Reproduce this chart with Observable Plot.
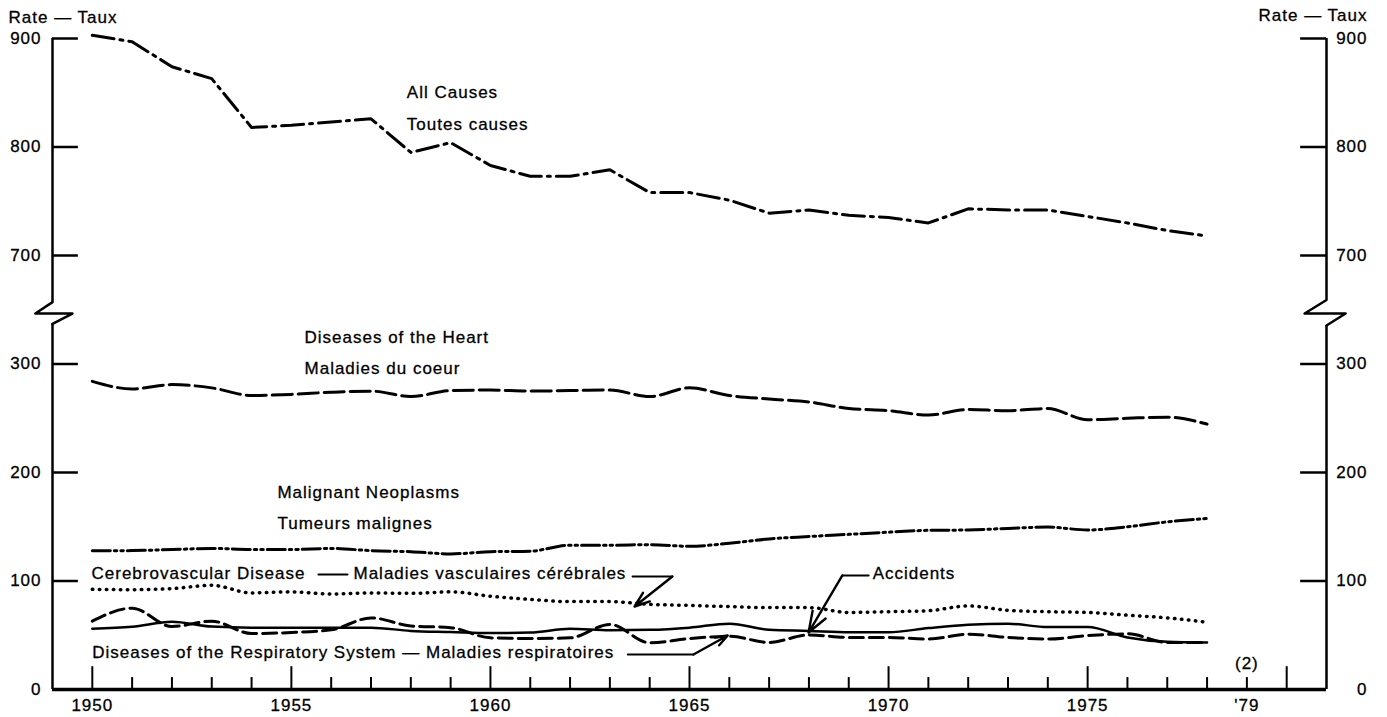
<!DOCTYPE html>
<html><head><meta charset="utf-8">
<script src="https://cdn.jsdelivr.net/npm/d3@7"></script>
<script src="https://cdn.jsdelivr.net/npm/@observablehq/plot@0.6"></script>
<style>
html,body{margin:0;padding:0;background:#fff;}
#chart svg{display:block;}
#chart svg text{letter-spacing:1px;}
</style></head><body><div id="chart"></div>
<script>
// ---- data (rates per 100,000) ----
const years = [1950,1951,1952,1953,1954,1955,1956,1957,1958,1959,1960,1961,1962,1963,1964,1965,1966,1967,1968,1969,1970,1971,1972,1973,1974,1975,1976,1977,1978];
const allCauses = [903,897,874,863,818,820,823,826,795,804,783,773,773,779,758,758,751,739,742,737,735,730,743,742,742,736,730,723,718];
const heartDisease = [284,277,281,278,271,272,274,275,270,275.5,276,275,275.5,276,270,278,271,267.7,265,259,257,253,258,257,259,248.6,250,251,244.6];
const malignantNeoplasms = [127.8,128,129,130,129,129,130,128,127,125,127,127.5,133,133,133.5,132,134.8,138.8,141,143,145,146.7,147,148.5,149.7,147,150,154.5,157.6];
const cerebrovascular = [92.3,92,93,96,89,90,88,89,88.6,90,86,83,81,81,78.5,77.5,76.4,75.5,75.5,71,71.7,72.6,77,73,71.7,71,68.5,66,62];
const accidents = [56,57.8,62.5,58,57,57,57,57,54,53,52,52.5,56,54.6,55,57,60.7,55,54,52.8,52.8,56.6,59.7,60.7,57.5,57.5,48,44,43.4];
const respiratory = [63,75,58,63,51.6,52.5,55,66,58.6,57,47.6,47,47.6,60,43,47,49,43.4,50.3,48,48,46.5,51,48,46.5,49.7,51.3,43.4,43.4];

const yTickValues = [0,100,200,300,700,800,900];
const xTickYears = [1950,1951,1952,1953,1954,1955,1956,1957,1958,1959,1960,1961,1962,1963,1964,1965,1966,1967,1968,1969,1970,1971,1972,1973,1974,1975,1976,1977,1978,1979,1980];
const xLabelYears = [1950,1955,1960,1965,1970,1975,1979];
const xLabelText = ["1950","1955","1960","1965","1970","1975","'79"];

// ---- broken axis: values above the break are shifted down by 300 ----
const BREAK_SHIFT = 300;
const bk = v => v > 500 ? v - BREAK_SHIFT : v;

const X0 = 1949, X1 = 1981;
const FONT = "Liberation Sans, Arial, Helvetica, sans-serif";

function series(vals, name) {
  return years.map((yr, i) => ({year: yr, value: bk(vals[i]), name}));
}

const labels = [
  {x: 1957.9, y: 850, t: "All Causes"},
  {x: 1957.9, y: 821, t: "Toutes causes"},
  {x: 1955.33, y: 324, t: "Diseases of the Heart"},
  {x: 1955.33, y: 296, t: "Maladies du coeur"},
  {x: 1954.65, y: 181.6, t: "Malignant Neoplasms"},
  {x: 1954.65, y: 153, t: "Tumeurs malignes"},
  {x: 1949.98, y: 106.9, t: "Cerebrovascular Disease"},
  {x: 1956.56, y: 106.9, t: "Maladies vasculaires cérébrales"},
  {x: 1950.0, y: 34.1, t: "Diseases of the Respiratory System — Maladies respiratoires"},
  {x: 1969.6, y: 106.9, t: "Accidents"}
].map(d => ({...d, y: bk(d.y)}));

const leaders = [
  [{x:1955.68,y:106},{x:1956.41,y:106}],
  [{x:1963.57,y:104.1},{x:1964.57,y:104.1}],
  [{x:1963.45,y:32.3},{x:1965.10,y:32.3}],
  [{x:1968.84,y:105.1},{x:1969.5,y:105.1}]
];
const arrows = [
  {x1:1964.57,y1:104.1,x2:1963.62,y2:76.5},
  {x1:1965.10,y1:32.3,x2:1965.96,y2:49.8},
  {x1:1968.84,y1:105.1,x2:1967.99,y2:52.5}
];

// axis break zigzags (x offsets in years, y in shifted units)
const zigLeft = [{x:X0,y:357},{x:X0-0.43,y:346.5},{x:X0+0.5,y:346.5},{x:X0,y:337}];
const zigRight = [{x:X1,y:359},{x:X1-0.55,y:346.5},{x:X1+0.48,y:346.5},{x:X1,y:335.5}];

const tickLen = 0.65; // years
const lineCommon = {x: "year", y: "value", stroke: "#000", fill: "none"};
const txt = {fontSize: 17, fill: "#000", stroke: "#000", strokeWidth: 0.3};

const plot = Plot.plot({
  width: 1387,
  height: 717,
  marginLeft: 52,
  marginRight: 61,
  marginTop: 38,
  marginBottom: 28,
  style: {fontFamily: FONT, fontSize: "17px", color: "#000", background: "#fff"},
  x: {domain: [X0, X1], axis: null},
  y: {domain: [0, 600], axis: null},
  marks: [
    // axes frame
    Plot.ruleY([0], {x1: X0, x2: X1, strokeWidth: 3.5}),
    Plot.ruleX([X0], {y1: 0, y2: 337, strokeWidth: 2.5}),
    Plot.ruleX([X0], {y1: 357, y2: 600, strokeWidth: 2.5}),
    Plot.ruleX([X1], {y1: 0, y2: 335.5, strokeWidth: 2.5}),
    Plot.ruleX([X1], {y1: 359, y2: 600, strokeWidth: 2.5}),
    Plot.line(zigLeft, {x: "x", y: "y", strokeWidth: 2.5, clip: false}),
    Plot.line(zigRight, {x: "x", y: "y", strokeWidth: 2.5, clip: false}),
    // y ticks (inward)
    Plot.ruleY(yTickValues.map(bk), {x1: X0, x2: X0 + tickLen, strokeWidth: 2.5}),
    Plot.ruleY(yTickValues.map(bk), {x1: X1 - tickLen, x2: X1, strokeWidth: 2.5}),
    // y labels
    Plot.text(yTickValues, {...txt, y: d => bk(d), text: d => String(d), frameAnchor: "left", dx: -11, textAnchor: "end", lineAnchor: "middle"}),
    Plot.text(yTickValues, {...txt, y: d => bk(d), text: d => String(d), frameAnchor: "right", dx: 41, textAnchor: "end", lineAnchor: "middle"}),
    // x ticks (inward)
    Plot.ruleX(xTickYears, {y1: 0, y2: d => d % 5 === 0 ? 21 : 11, strokeWidth: 2}),
    Plot.text(xLabelYears, {...txt, x: d => d, text: (d, i) => xLabelText[i], frameAnchor: "bottom", lineAnchor: "middle", dy: 16}),
    // axis titles
    Plot.text(["Rate — Taux"], {...txt, frameAnchor: "top-left", dx: -44, dy: -21, textAnchor: "start", lineAnchor: "middle"}),
    Plot.text(["Rate — Taux"], {...txt, frameAnchor: "top-right", dx: 41, dy: -23, textAnchor: "end", lineAnchor: "middle"}),
    // series
    Plot.line(series(allCauses, "all"), {...lineCommon, strokeWidth: 3, strokeDasharray: "22,6,3,6"}),
    Plot.line(series(heartDisease, "heart"), {...lineCommon, strokeWidth: 3, strokeDasharray: "20,6", curve: "monotone-x"}),
    Plot.line(series(malignantNeoplasms, "neo"), {...lineCommon, strokeWidth: 3, strokeDasharray: "18,4,2.5,4,2.5,4", curve: "monotone-x"}),
    Plot.line(series(cerebrovascular, "cerebro"), {...lineCommon, strokeWidth: 3.5, strokeDasharray: "0.5,6.5", strokeLinecap: "round", curve: "monotone-x"}),
    Plot.line(series(accidents, "acc"), {...lineCommon, strokeWidth: 2.5, curve: "monotone-x"}),
    Plot.line(series(respiratory, "resp"), {...lineCommon, strokeWidth: 3, strokeDasharray: "14,6", curve: "monotone-x"}),
    // annotations
    Plot.text(labels, {...txt, x: "x", y: "y", text: "t", textAnchor: "start"}),
    Plot.text(["(2)"], {...txt, x: () => 1979, y: () => 24, text: d => d}),
    ...leaders.map(seg => Plot.line(seg, {x: "x", y: "y", strokeWidth: 2})),
    Plot.arrow(arrows, {x1: "x1", y1: "y1", x2: "x2", y2: "y2", strokeWidth: 2.4, headLength: 14, headAngle: 40, bend: 0, stroke: "#000"})
  ]
});
document.getElementById("chart").appendChild(plot);
</script></body></html>
